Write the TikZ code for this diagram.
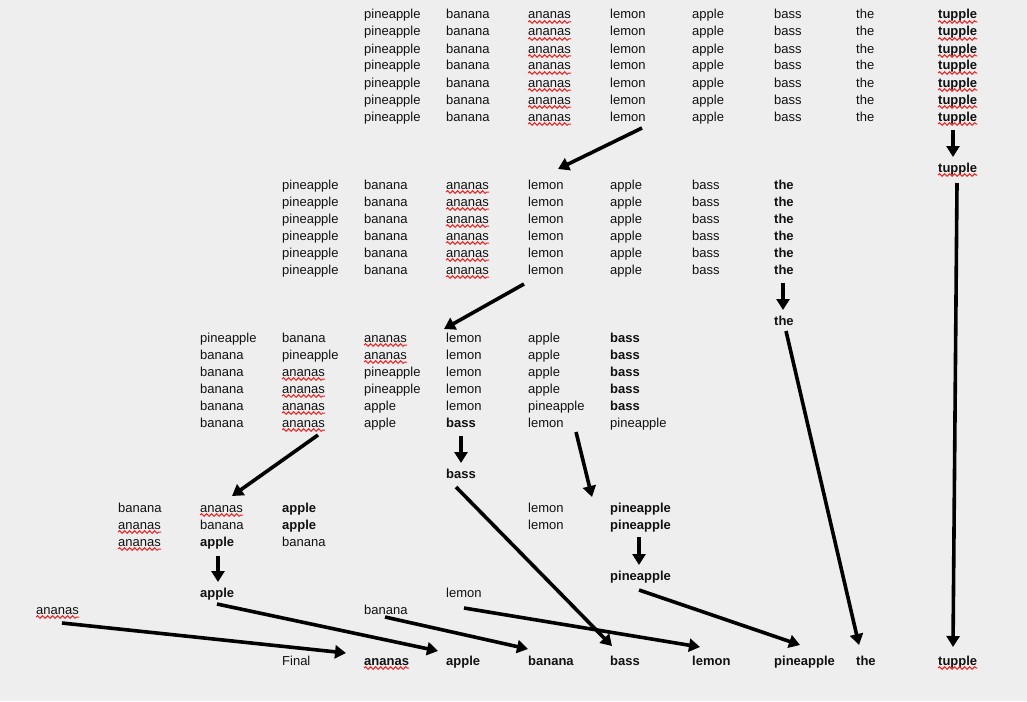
\documentclass[tikz,border=0pt]{standalone}
\usepackage{fontspec}
\setmainfont{Liberation Sans}
\usetikzlibrary{arrows.meta,decorations.pathmorphing}
\definecolor{bg}{HTML}{EEEEEE}
\definecolor{ink}{HTML}{111111}
\definecolor{spell}{HTML}{EE2222}
\newcommand\wf{\fontsize{13}{15}\selectfont}
\newcommand\W[4][word]{\node[#1] (r#2c#3) at ({36+82*#3},{-(19+17*#2)}) {#4};}
\newcommand\A[4]{\draw[arr] ([shift={#2}]#1.base west) -- ([shift={#4}]#3.base west);}
\tikzset{
  word/.style={anchor=base west, inner sep=0pt, font=\wf, text=ink},
  bw/.style={word, font=\wf\bfseries},
  arr/.style={line width=3.6pt, draw=black, -{Triangle[length=11pt,width=13pt]}},
  wave/.style={draw=spell, line width=1pt, decorate, decoration={snake, amplitude=1.3pt, segment length=5pt}}
}
\begin{document}
\begin{tikzpicture}[x=1pt,y=1pt]
\fill[bg] (0,0) rectangle (1027,-701);
\useasboundingbox (0,0) rectangle (1027,-701);
% block 1
\foreach \r in {0,...,6}{
  \W{\r}{4}{pineapple}\W{\r}{5}{banana}\W{\r}{6}{ananas}\W{\r}{7}{lemon}
  \W{\r}{8}{apple}\W{\r}{9}{bass}\W{\r}{10}{the}\W[bw]{\r}{11}{tupple}
}
\W[bw]{9}{11}{tupple}
% block 2
\foreach \r in {10,...,15}{
  \W{\r}{3}{pineapple}\W{\r}{4}{banana}\W{\r}{5}{ananas}\W{\r}{6}{lemon}
  \W{\r}{7}{apple}\W{\r}{8}{bass}\W[bw]{\r}{9}{the}
}
\W[bw]{18}{9}{the}
% block 3
\W{19}{2}{pineapple}\W{19}{3}{banana}\W{19}{4}{ananas}\W{19}{5}{lemon}\W{19}{6}{apple}\W[bw]{19}{7}{bass}
\W{20}{2}{banana}\W{20}{3}{pineapple}\W{20}{4}{ananas}\W{20}{5}{lemon}\W{20}{6}{apple}\W[bw]{20}{7}{bass}
\W{21}{2}{banana}\W{21}{3}{ananas}\W{21}{4}{pineapple}\W{21}{5}{lemon}\W{21}{6}{apple}\W[bw]{21}{7}{bass}
\W{22}{2}{banana}\W{22}{3}{ananas}\W{22}{4}{pineapple}\W{22}{5}{lemon}\W{22}{6}{apple}\W[bw]{22}{7}{bass}
\W{23}{2}{banana}\W{23}{3}{ananas}\W{23}{4}{apple}\W{23}{5}{lemon}\W{23}{6}{pineapple}\W[bw]{23}{7}{bass}
\W{24}{2}{banana}\W{24}{3}{ananas}\W{24}{4}{apple}\W[bw]{24}{5}{bass}\W{24}{6}{lemon}\W{24}{7}{pineapple}
\W[bw]{27}{5}{bass}
% block 4
\W{29}{1}{banana}\W{29}{2}{ananas}\W[bw]{29}{3}{apple}\W{29}{6}{lemon}\W[bw]{29}{7}{pineapple}
\W{30}{1}{ananas}\W{30}{2}{banana}\W[bw]{30}{3}{apple}\W{30}{6}{lemon}\W[bw]{30}{7}{pineapple}
\W{31}{1}{ananas}\W[bw]{31}{2}{apple}\W{31}{3}{banana}
\W[bw]{33}{7}{pineapple}
\W[bw]{34}{2}{apple}\W{34}{5}{lemon}
\W{35}{0}{ananas}\W{35}{4}{banana}
% final row
\W{38}{3}{Final}\W[bw]{38}{4}{ananas}\W[bw]{38}{5}{apple}\W[bw]{38}{6}{banana}
\W[bw]{38}{7}{bass}\W[bw]{38}{8}{lemon}\W[bw]{38}{9}{pineapple}\W[bw]{38}{10}{the}\W[bw]{38}{11}{tupple}
% spell-check underlines
\foreach \n in {r0c6,r1c6,r2c6,r3c6,r4c6,r5c6,r6c6,
  r0c11,r1c11,r2c11,r3c11,r4c11,r5c11,r6c11,r9c11,
  r10c5,r11c5,r12c5,r13c5,r14c5,r15c5,
  r19c4,r20c4,r21c3,r22c3,r23c3,r24c3,
  r29c2,r30c1,r31c1,r35c0,r38c4,r38c11}
  \draw[wave] ([yshift=-3pt]\n.base west) -- ([yshift=-3pt]\n.base east);
% arrows
\A{r6c7}{(32,-7)}{r10c6}{(30,20)}
\A{r6c11}{(15,-9)}{r9c11}{(15,15)}
\A{r9c11}{(19,-11)}{r38c11}{(15,18)}
\A{r15c6}{(-4,-10)}{r19c5}{(-2,13)}
\A{r15c9}{(9,-9)}{r18c9}{(9,15)}
\A{r18c9}{(12,-6)}{r38c10}{(3,20)}
\A{r24c3}{(36,-8)}{r29c2}{(32,16)}
\A{r24c5}{(15,-9)}{r27c5}{(15,15)}
\A{r24c6}{(48,-5)}{r29c7}{(-18,15)}
\A{r27c5}{(10,-9)}{r38c7}{(2,19)}
\A{r31c2}{(18,-10)}{r34c2}{(18,15)}
\A{r30c7}{(29,-8)}{r33c7}{(29,15)}
\A{r33c7}{(29,-10)}{r38c9}{(26,20)}
\A{r34c2}{(17,-7)}{r38c5}{(-8,14)}
\A{r35c0}{(26,-9)}{r38c4}{(-18,12)}
\A{r35c4}{(21,-3)}{r38c6}{(0,16)}
\A{r34c5}{(18,-11)}{r38c8}{(8,18)}
\end{tikzpicture}
\end{document}
